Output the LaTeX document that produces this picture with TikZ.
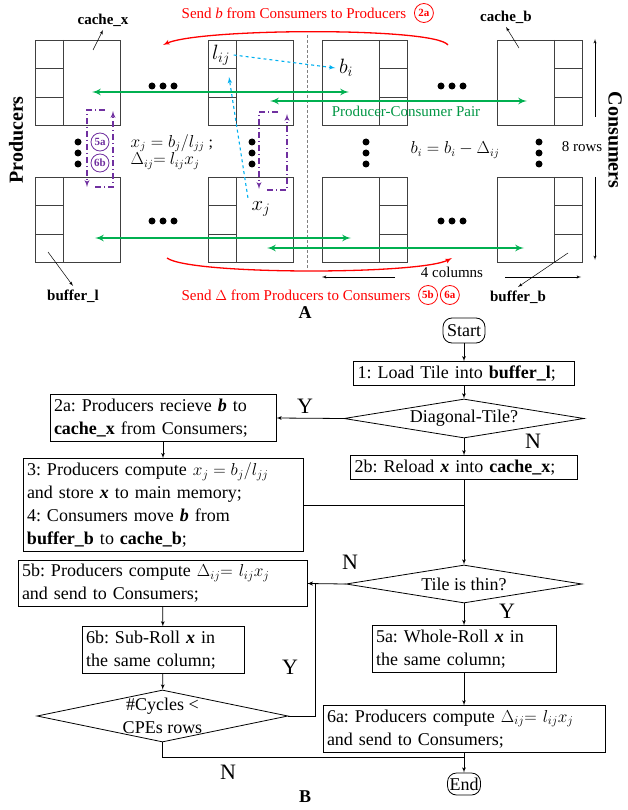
\documentclass[tikz,border=0pt]{standalone}
\usepackage{amsmath}
\usepackage{fontspec}
\setmainfont{Liberation Serif}
\usepackage{tikz}
\usetikzlibrary{shapes,arrows,positioning}
\frenchspacing
\definecolor{pairgreen}{RGB}{0,176,80}
\definecolor{rollpurple}{RGB}{112,48,160}
\definecolor{dashblue}{RGB}{0,176,240}
\newcommand{\flowfont}{\fontsize{18}{23}\selectfont}
\newcommand{\labfont}{\fontsize{15}{18}\selectfont}
\tikzstyle{tile} = [draw=black!75, rectangle, minimum size=85pt, inner sep=0pt, outer sep=0pt]
\tikzstyle{block} = [draw, rectangle, align=left, inner sep=4pt, font=\flowfont]
\tikzstyle{term} = [draw, rectangle, rounded corners=9pt, minimum height=25pt, inner sep=4pt, font=\flowfont]
\tikzstyle{decision} = [draw, diamond, inner sep=0pt]
\tikzstyle{yn} = [font=\fontsize{22}{24}\selectfont]
\tikzstyle{pair} = [draw=pairgreen, line width=2pt, <->]
\tikzstyle{roll} = [draw=rollpurple, line width=1.3pt, dash pattern=on 6pt off 3pt on 1pt off 3pt, ->]
\tikzstyle{redcirc} = [draw=red, circle, text=red, inner sep=0pt, minimum size=19pt, font=\fontsize{11}{12}\selectfont\bfseries]
\tikzstyle{purcirc} = [draw=rollpurple, circle, text=rollpurple, inner sep=0pt, minimum size=18pt, font=\fontsize{11}{12}\selectfont\bfseries]
\tikzstyle{pointer} = [draw, line width=0.5pt, ->]

\begin{document}
\begin{tikzpicture}[x=1pt, y=-1pt, >=latex', line width=0.8pt]
    \useasboundingbox (0,0) rectangle (628,810);

    % Part A: producer and consumer tiles
    \foreach \n/\x/\y in {pa/77.5/82.5, pb/250.5/82.5, pc/77.5/219.5, pd/250.5/219.5} {
        \node [tile] (\n) at (\x,\y) {};
        \draw [black!75] (\n.north west) ++(28,0) -- ++(0,85);
        \draw [black!75] (\n.north west) ++(0,28) -- ++(28,0) ++(-28,29) -- ++(28,0);
    }
    \foreach \n/\x/\y in {ca/364.5/82.5, cb/539.5/82.5, cc/364.5/219.5, cd/539.5/219.5} {
        \node [tile] (\n) at (\x,\y) {};
        \draw [black!75] (\n.north east) ++(-28,0) -- ++(0,85);
        \draw [black!75] (\n.north east) ++(0,28) -- ++(-28,0) ++(28,29) -- ++(-28,0);
    }
    \foreach \x in {152,163,174,441,452,463} \foreach \y in {86,221} \fill (\x,\y) circle (3.5pt);
    \foreach \x in {78,252,366,539} \foreach \y in {142,153,164} \fill (\x,\y) circle (3.5pt);
    \draw [gray, densely dashed, line width=0.6pt] (307,35) -- (307,268);

    % Side and corner labels
    \node [rotate=90, font=\fontsize{20}{22}\selectfont\bfseries] (prod) at (16,140) {Producers};
    \node [rotate=-90, font=\fontsize{20}{22}\selectfont\bfseries] (cons) at (615,140) {Consumers};
    \node [font=\labfont\bfseries] (cachex) at (103,20) {cache\_x};
    \node [font=\labfont\bfseries] (cacheb) at (506,17) {cache\_b};
    \node [font=\labfont\bfseries] (bufl) at (73,296) {buffer\_l};
    \node [font=\labfont\bfseries] (bufb) at (518,297) {buffer\_b};
    \draw [pointer] (93,50) -- (cachex.south);
    \draw [pointer] (519,48) -- (cacheb.south);
    \draw [pointer] (48,252) -- (bufl.north);
    \draw [pointer] (568,253) -- (bufb.north);

    % Communication between the tiles
    \draw [red, line width=1.3pt, ->] (448,45) .. controls (435,27) and (200,28) .. (163,45);
    \draw [red, line width=1.3pt, ->] (167,258) .. controls (190,275) and (420,275) .. (452,258);
    \node [text=red, font=\labfont] (sendb) at (294,13) {Send \textit{b} from Consumers to Producers};
    \node [redcirc, right=4pt of sendb.east] (c2a) {2a};
    \node [text=red, font=\labfont] (sendd) at (296,295) {Send $\Delta$ from Producers to Consumers};
    \node [redcirc, right=4pt of sendd.east] (c5b) {5b};
    \node [redcirc, right=2pt of c5b.east] (c6a) {6a};
    \draw [pair] (92,92) -- (349,92);
    \draw [pair] (270,101) -- (527,101);
    \draw [pair] (95,238) -- (351,238);
    \draw [pair] (267,248) -- (524,248);
    \node [text=pairgreen!85!black, font=\labfont] (pairlab) at (406,111) {Producer-Consumer Pair};

    % Values moved inside a column
    \node [font=\fontsize{22}{24}\selectfont] (lij) at (221,55) {$l_{ij}$};
    \node [font=\fontsize{22}{24}\selectfont] (bi) at (346,68) {$b_i$};
    \node [font=\fontsize{22}{24}\selectfont] (xj) at (261,209) {$x_j$};
    \draw [dashblue, dashed, line width=1.1pt, ->] (lij.east) -- (bi.west);
    \draw [dashblue, dashed, line width=1.1pt, ->] (xj.north west) -- (229,77);
    \draw [roll] (105,110) -- (87,110) -- (87,187);
    \draw [roll] (95,187) -- (113,187) -- (113,111);
    \draw [roll] (278,112) -- (259,112) -- (259,189);
    \draw [roll] (267,190) -- (287,190) -- (287,114);
    \node [purcirc] (p5a) at (100,142) {5a};
    \node [purcirc] (p6b) at (100,163) {6b};
    \node [anchor=west, font=\fontsize{16}{18}\selectfont] (fx) at (127,143) {$x_j = b_j/l_{jj}$ ;};
    \node [anchor=west, font=\fontsize{16}{18}\selectfont] (fd) at (127,161) {$\Delta_{ij}{=}\ l_{ij}x_j$};
    \node [font=\fontsize{16}{18}\selectfont] (fb) at (455,150) {$b_i = b_i - \Delta_{ij}$};

    % Sizes of the array
    \node [font=\labfont] (rows) at (582,147) {8 rows};
    \draw [pointer] (595,117) -- (595,39);
    \draw [pointer] (595,177) -- (595,260);
    \node [font=\labfont] (cols) at (452,272) {4 columns};
    \draw [pointer] (395,277) -- (322,277);
    \draw [pointer] (505,277) -- (581,277);
    \node [font=\fontsize{18}{20}\selectfont\bfseries] (partA) at (305,313) {A};

    % Part B: the flow chart
    \node [term] (start) at (464,330.5) {Start};
    \node [block, text width=213pt] (load) at (464,373.5) {1: Load Tile into \textbf{buffer\_l};};
    \node [decision, minimum width=240pt, minimum height=39pt,
           label={[font=\flowfont]center:Diagonal-Tile?}] (diag) at (464,418.5) {};
    \node [block, text width=219pt] (reload) at (464,467.5) {2b: Reload \textbf{\textit{x}} into \textbf{cache\_x};};
    \node [block, text width=218pt] (recv) at (163,418) {2a: Producers recieve \textbf{\textit{b}} to\\\textbf{cache\_x} from Consumers;};
    \node [block, text width=272pt] (comp) at (163,505) {3: Producers compute $x_j = b_j/l_{jj}$\\and store \textbf{\textit{x}} to main memory;\\4: Consumers move \textbf{\textit{b}} from\\\textbf{buffer\_b} to \textbf{cache\_b};};
    \node [decision, minimum width=236pt, minimum height=38pt,
           label={[font=\flowfont]center:Tile is thin?}] (thin) at (464,584) {};
    \node [block, text width=281pt] (sendsub) at (162.5,583.5) {5b: Producers compute $\Delta_{ij}{=}\ l_{ij}x_j$\\and send to Consumers;};
    \node [block, text width=154pt] (subroll) at (163,650) {6b: Sub-Roll \textbf{\textit{x}} in\\the same column;};
    \node [decision, minimum width=251pt, minimum height=52pt,
           label={[font=\flowfont, align=center]center:\#Cycles <\\CPEs rows}] (cycles) at (162.5,716) {};
    \node [block, text width=176pt] (wholeroll) at (464,649) {5a: Whole-Roll \textbf{\textit{x}} in\\the same column;};
    \node [block, text width=274pt] (sendall) at (464,729) {6a: Producers compute $\Delta_{ij}{=}\ l_{ij}x_j$\\and send to Consumers;};
    \node [term, minimum height=22pt, inner sep=2pt] (end) at (464,784) {End};
    \coordinate (join) at (464,757);

    % Connect the steps
    \draw [->] (start) -- (load);
    \draw [->] (load) -- (diag);
    \draw [->] (diag) -- (reload);
    \draw [->] (diag.west) -- (recv.east);
    \draw [->] (recv) -- (comp);
    \draw (comp.east) -- (comp.east -| reload.south);
    \draw [->] (reload) -- (thin);
    \draw [->] (thin.west) -- (sendsub.east);
    \draw [->] (thin) -- (wholeroll);
    \draw [->] (wholeroll) -- (sendall);
    \draw [->] (sendall) -- (end);
    \draw [->] (sendsub) -- (subroll);
    \draw [->] (subroll) -- (cycles);
    \draw [->] (cycles.east) -- ++(27,0) |- (sendsub.east);
    \draw (cycles.south) |- (join);
    \node [yn] (y1) at (305,406) {Y};
    \node [yn] (n1) at (533,441) {N};
    \node [yn] (n2) at (350,562) {N};
    \node [yn] (y2) at (507,611) {Y};
    \node [yn] (y3) at (290,667) {Y};
    \node [yn] (n3) at (228,772) {N};
    \node [font=\fontsize{18}{20}\selectfont\bfseries] (partB) at (305,797) {B};
\end{tikzpicture}
\end{document}
